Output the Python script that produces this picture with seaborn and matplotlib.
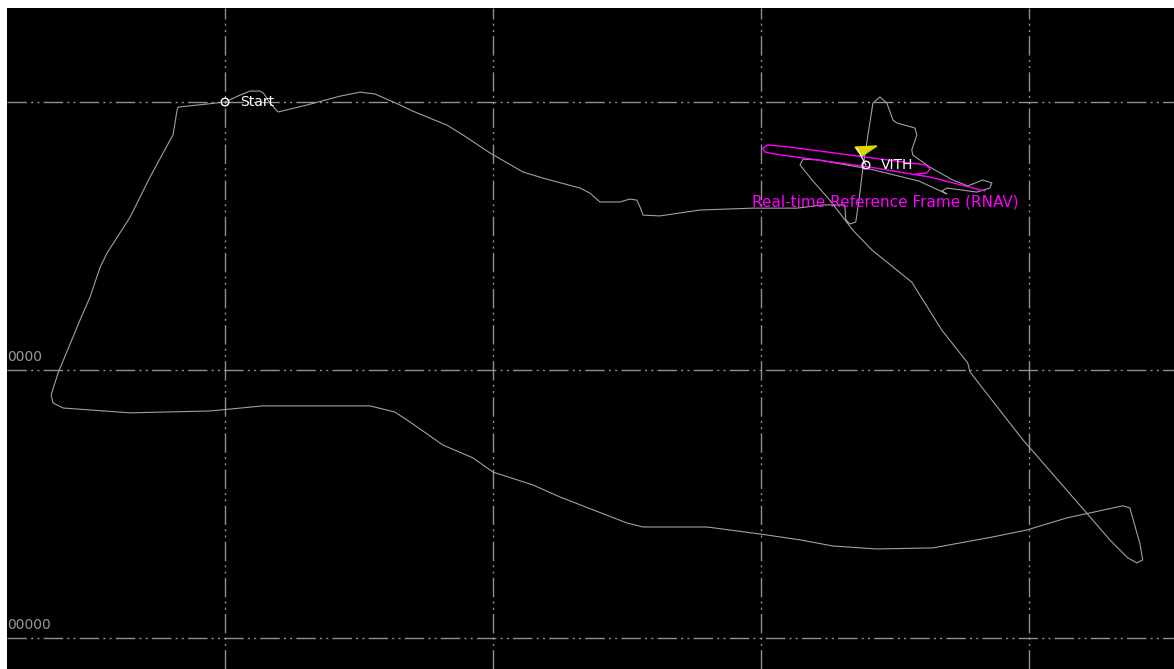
import numpy as np
import pandas as pd
import seaborn as sns
import matplotlib.pyplot as plt

# flight track, km relative to the start point (grid every 10 km)
track_x = [0.00, 0.56, 0.93, 1.31, 1.46, 1.68, 1.98, 3.06, 4.29, 5.04, 5.60, 6.53, 7.01, 8.28, 8.88,
           9.89, 11.12, 11.87, 13.25, 13.62, 13.99, 14.74, 15.11, 15.37, 15.49, 15.60, 16.23, 17.72,
           19.70, 21.34, 22.31, 23.13, 23.17, 23.32, 23.54, 23.66, 23.81, 24.18, 24.44, 24.70, 24.93,
           25.07, 25.75, 25.82, 25.63, 25.67, 26.31, 27.16, 27.72, 28.28, 28.62, 28.54, 28.06, 26.94,
           26.75, 26.94, 25.90, 24.07, 22.13, 21.57, 21.46, 21.91, 22.57, 23.43, 24.14, 25.63, 26.75,
           27.72, 27.80, 29.78, 32.16, 33.02, 33.69, 34.03, 34.25, 34.14, 33.77, 33.51, 31.42, 29.93,
           28.66, 26.42, 24.33, 22.69, 21.46, 19.96, 17.99, 15.60, 15.00, 12.50, 11.49, 10.00, 9.25,
           8.13, 7.76, 6.90, 6.34, 5.41, 2.80, 1.42, -0.56, -3.54, -6.04, -6.42, -6.49, -6.23, -5.41,
           -5.04, -4.66, -4.40, -3.54, -2.80, -2.05, -1.94, -1.79, -1.75, 0.00]
track_y = [10.00, 10.26, 10.41, 10.41, 10.30, 9.96, 9.63, 9.89, 10.22, 10.37, 10.30, 9.89, 9.66, 9.14,
           8.77, 8.10, 7.39, 7.16, 6.79, 6.60, 6.27, 6.27, 6.38, 6.34, 6.08, 5.78, 5.75, 5.97, 6.04,
           6.04, 6.16, 6.16, 5.60, 5.45, 5.52, 6.34, 7.57, 9.96, 10.19, 9.96, 9.33, 9.22, 9.03, 8.77,
           8.21, 8.02, 7.57, 7.09, 6.87, 7.09, 6.98, 6.79, 6.64, 6.79, 6.68, 6.57, 7.05, 7.50, 7.84,
           7.87, 7.65, 7.09, 6.34, 5.22, 4.48, 3.28, 1.49, 0.26, -0.07, -2.61, -5.34, -6.34, -7.01,
           -7.20, -7.09, -6.46, -5.15, -5.07, -5.52, -5.97, -6.23, -6.64, -6.68, -6.57, -6.34, -6.12,
           -5.86, -5.86, -5.71, -4.74, -4.29, -3.81, -3.28, -2.80, -2.54, -1.94, -1.57, -1.34, -1.34,
           -1.34, -1.53, -1.60, -1.42, -1.23, -0.93, -0.11, 1.87, 2.72, 3.84, 4.37, 5.71, 7.20, 8.58,
           8.77, 9.70, 9.81, 10.00]

# RNAV reference frame outline
rnav_x = [28.36, 26.31, 24.07, 20.52, 20.15, 20.07, 20.26, 21.08, 26.16, 26.31, 26.19, 25.75]
rnav_y = [6.68, 7.20, 7.57, 8.06, 8.13, 8.28, 8.40, 8.32, 7.65, 7.50, 7.35, 7.31]

# waypoints
wp_names = ["Start", "VITH"]
wp_x = [0.00, 23.92]
wp_y = [10.00, 7.65]

# flag at VITH
flag_x = [23.51, 24.33, 23.77]
flag_y = [8.32, 8.36, 7.99]
pole_x = [23.58, 23.92]
pole_y = [8.28, 7.65]

grid_x = [0, 10, 20, 30]
grid_y = [-10, 0, 10]
grid_labels = ["0000", "00000"]  # clipped northing labels at the left edge
grid_label_y = [0, -10]

sns.set_theme(style="dark")
plt.rcParams['font.family'] = ['DejaVu Sans']
plt.rcParams['lines.scale_dashes'] = False

fig = plt.figure(figsize=(11.74, 6.69), dpi=100, facecolor="white")
ax = fig.add_axes([7 / 1174, 0, 1167 / 1174, 661 / 669])
ax.set_facecolor("black")

track = pd.DataFrame({"x": track_x, "y": track_y})
sns.lineplot(data=track, x="x", y="y", sort=False, estimator=None,
             color="#a0a0a0", linewidth=0.8, ax=ax, zorder=3)
rnav = pd.DataFrame({"x": rnav_x, "y": rnav_y})
sns.lineplot(data=rnav, x="x", y="y", sort=False, estimator=None,
             color="#ff00ff", linewidth=1.0, ax=ax, zorder=4)

ax.fill(flag_x, flag_y, color="#d8d800", zorder=5)
ax.plot(pole_x, pole_y, color="white", linewidth=0.8, zorder=5)

sns.scatterplot(x=wp_x, y=wp_y, ax=ax, marker="o", s=30, facecolor="none",
                edgecolor="white", linewidth=1.0, zorder=6)
for name, x, y in zip(wp_names, wp_x, wp_y):
    ax.annotate(name, (x, y), xytext=(11, 0), textcoords="offset points",
                color="white", fontsize=10, va="center", ha="left", zorder=7)

ax.annotate("Real-time Reference Frame (RNAV)", (19.66, 6.27), color="#ff00ff",
            fontsize=11, va="center", ha="left", zorder=7)

for lab, y in zip(grid_labels, grid_label_y):
    ax.annotate(lab, (-8.13, y), xytext=(0, 4), textcoords="offset points",
                color="#9a9a9a", fontsize=10, va="bottom", ha="left")

ax.set_xlim(-8.13, 35.41)
ax.set_ylim(-11.16, 13.51)
ax.set_aspect("equal")
ax.set_xticks(grid_x)
ax.set_yticks(grid_y)
ax.set_xticklabels([])
ax.set_yticklabels([])
ax.tick_params(length=0)
ax.grid(True, color="#909090", linewidth=1.0,
        linestyle=(0, (14, 3, 1.5, 3, 1.5, 3)))
ax.set_axisbelow(True)
ax.set_xlabel("")
ax.set_ylabel("")
for s in ax.spines.values():
    s.set_visible(False)

fig.savefig("out.png", dpi=100, facecolor="white")
